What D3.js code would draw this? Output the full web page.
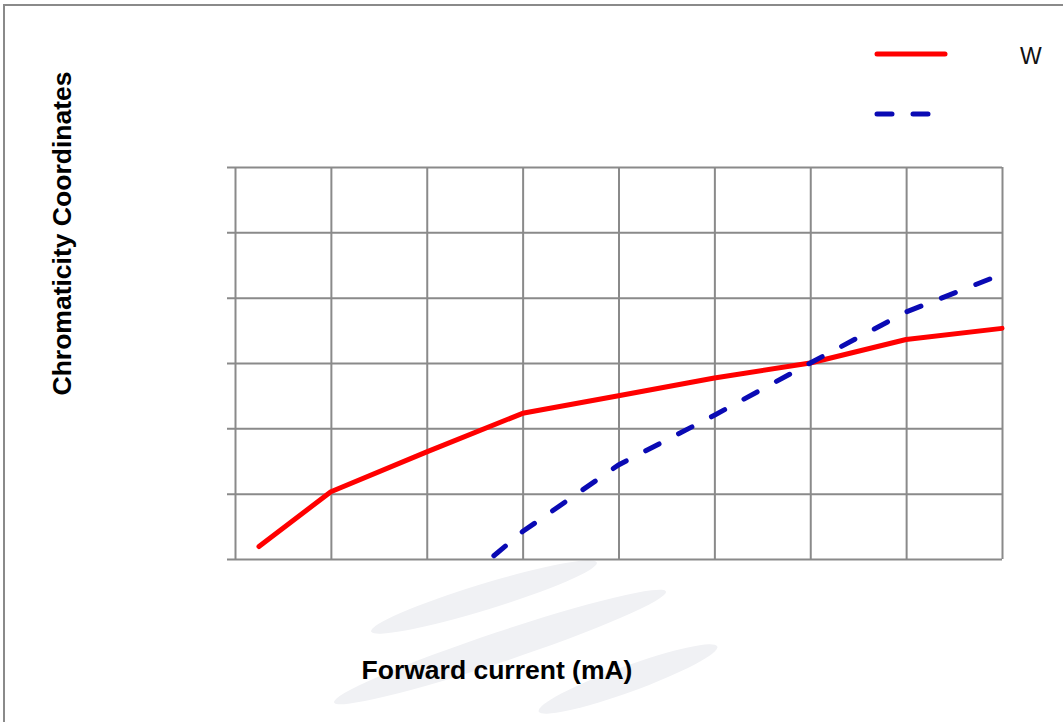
<!DOCTYPE html>
<html><head><meta charset="utf-8">
<script src="https://cdn.jsdelivr.net/npm/d3@7/dist/d3.min.js"></script>
<style>html,body{margin:0;padding:0;background:#fff;overflow:hidden}</style>
</head><body>
<script>
// Data (grid units; the reference shows no tick labels)
const xTicks = [0,1,2,3,4,5,6,7,8];
const yTicks = [0,1,2,3,4,5,6];
const redX  = [0.25,1,2,3,4,5,6,7,8];
const redY  = [0.19,1.03,1.64,2.23,2.50,2.77,3.0,3.36,3.53];
const blueX = [2.7,3,4,5,6,7,8];
const blueY = [0.05,0.42,1.44,2.2,3.0,3.78,4.36];
const seriesNames = ["W",""];
const xTitle = "Forward current (mA)";
const yTitle = "Chromaticity Coordinates";

const W = 1063, H = 722;
const svg = d3.select("body").append("svg").attr("width",W).attr("height",H)
  .style("font-family","'Liberation Sans', Arial, sans-serif");

svg.append("rect").attr("x",4).attr("y",5).attr("width",1090).attr("height",760)
  .attr("fill","#fff").attr("stroke","#8a8a8a").attr("stroke-width",2);

// faint background decoration
const deco = svg.append("g").attr("fill","#f0f1f4");
[[484,597,118,13,-17],[500,647,175,15,-18.5],[628,679,95,13,-20]].forEach(e=>{
  deco.append("ellipse").attr("cx",0).attr("cy",0).attr("rx",e[2]).attr("ry",e[3])
    .attr("transform",`translate(${e[0]},${e[1]}) rotate(${e[4]})`);
});

const x = d3.scaleLinear().domain([0,8]).range([235,1002]);
const y = d3.scaleLinear().domain([0,6]).range([559,167]);

const gy = svg.append("g").attr("transform","translate(227,0)")
  .call(d3.axisLeft(y).tickValues(yTicks).tickSize(-(1002-227)).tickFormat(""));
const gx = svg.append("g").attr("transform","translate(0,559)")
  .call(d3.axisBottom(x).tickValues(xTicks).tickSize(-(559-167)).tickFormat(""));
[gx,gy].forEach(g=>{
  g.select(".domain").remove();
  g.selectAll(".tick line").attr("stroke","#8a8a8a").attr("stroke-width",2);
});

const line = d3.line().x(d=>x(d[0])).y(d=>y(d[1]));
svg.append("path").datum(redX.map((v,i)=>[v,redY[i]]))
  .attr("d",line).attr("fill","none").attr("stroke","#ff0000")
  .attr("stroke-width",5).attr("stroke-linecap","round").attr("stroke-linejoin","round");
svg.append("path").datum(blueX.map((v,i)=>[v,blueY[i]]))
  .attr("d",line).attr("fill","none").attr("stroke","#0a0ab4")
  .attr("stroke-width",5).attr("stroke-linecap","round").attr("stroke-dasharray","15,22");

// legend
svg.append("line").attr("x1",877).attr("x2",945).attr("y1",54).attr("y2",54)
  .attr("stroke","#ff0000").attr("stroke-width",5).attr("stroke-linecap","round");
svg.append("line").attr("x1",877).attr("x2",930).attr("y1",114).attr("y2",114)
  .attr("stroke","#0a0ab4").attr("stroke-width",5).attr("stroke-linecap","round")
  .attr("stroke-dasharray","15,21");
svg.append("text").attr("x",1020).attr("y",64).attr("font-size",23).attr("fill","#111").text(seriesNames[0]);

svg.append("text").attr("x",497).attr("y",679).attr("text-anchor","middle")
  .attr("font-size",26.5).attr("font-weight","bold").attr("fill","#000").text(xTitle);
svg.append("text").attr("transform","translate(71,233.5) rotate(-90)").attr("text-anchor","middle")
  .attr("font-size",26.5).attr("font-weight","bold").attr("fill","#000").text(yTitle);
</script>
</body></html>
